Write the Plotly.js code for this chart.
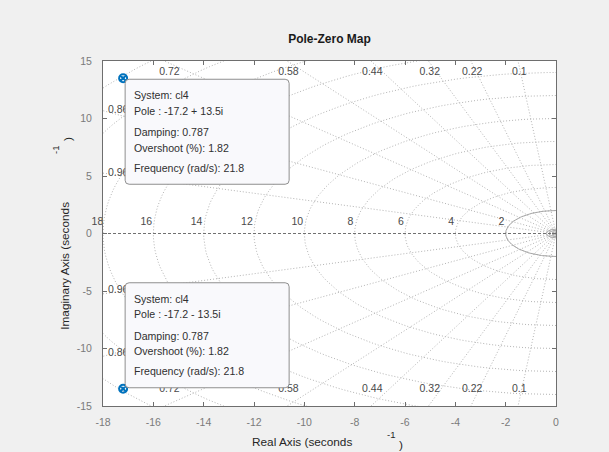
<!DOCTYPE html>
<html><head><meta charset="utf-8">
<script src="https://cdn.plot.ly/plotly-3.0.1.min.js"></script>
<style>html,body{margin:0;padding:0;background:#f0f0f0;}#c{width:609px;height:452px;}</style>
</head><body><div id="c"></div>
<script>
// ---- data ----
const zetas = [0.1, 0.22, 0.32, 0.44, 0.58, 0.72, 0.86, 0.96];
const zetaLabels = ['0.1', '0.22', '0.32', '0.44', '0.58', '0.72', '0.86', '0.96'];
const wns = [2, 4, 6, 8, 10, 12, 14, 16, 18, 20, 22];
const wnLabels = ['2', '4', '6', '8', '10', '12', '14', '16', '18', '', ''];
const smallArcs = [0.15, 0.27, 0.38, 2];
const xTicks = [-18, -16, -14, -12, -10, -8, -6, -4, -2, 0];
const yTicks = [-15, -10, -5, 0, 5, 10, 15];
const poleRe = [-17.2, -17.2];
const poleIm = [13.5, -13.5];
const systemName = ['cl4', 'cl4'];
const damping = [0.787, 0.787];
const overshoot = [1.82, 1.82];
const freq = [21.8, 21.8];

const FONT = 'Liberation Sans, Arial, sans-serif';
const X0 = -18, X1 = 0, Y0 = -15, Y1 = 15;
const PW = 453, PH = 345; // plot size px
const px2x = p => p / PW, py2y = p => p / PH;
const d2px = x => (x - X0) / (X1 - X0);
const d2py = y => (y - Y0) / (Y1 - Y0);

// ---- grid traces ----
const R = 60;
const rx = [], ry = [];
zetas.forEach(z => {
  const s = Math.sqrt(1 - z * z);
  rx.push(0, -R * z, null, 0, -R * z, null);
  ry.push(0, R * s, null, 0, -R * s, null);
});
const cx = [], cy = [];
wns.forEach(w => {
  for (let a = -90; a <= 90; a += 1.5) {
    const t = a * Math.PI / 180;
    cx.push(-w * Math.cos(t)); cy.push(w * Math.sin(t));
  }
  cx.push(null); cy.push(null);
});
const sx = [], sy = [];
smallArcs.forEach(w => {
  for (let a = -90; a <= 90; a += 1.5) {
    const t = a * Math.PI / 180;
    sx.push(-w * Math.cos(t)); sy.push(w * Math.sin(t));
  }
  sx.push(null); sy.push(null);
});

// damping labels
const dlx = [], dly = [], dlt = [], llx = [], lly = [], llt = [];
zetas.forEach((z, i) => {
  const s = Math.sqrt(1 - z * z) / z;
  const xt = -Y1 / s;
  if (xt >= X0) {
    const sh = (xt + 18) < 6 ? 0.2 : 0.05;
    dlx.push(xt + sh, xt + sh); dly.push(14.0, -13.55); dlt.push(zetaLabels[i], zetaLabels[i]);
  } else {
    const yl = -X0 * s;
    llx.push(-17.8, -17.8); lly.push(yl + 0.02, -yl + 0.3); llt.push(zetaLabels[i], zetaLabels[i]);
  }
});
const wlx = [], wly = [], wlt = [];
wns.forEach((w, i) => { if (wnLabels[i]) { wlx.push(Math.max(-w - 0.05, X0 + 0.01)); wly.push(1.0); wlt.push(wnLabels[i]); } });

const gridStyle = {color: '#b4b4b4', width: 1, dash: '1px,2px'};
const labFont = {family: FONT, size: 10.5, color: '#4a4a4a'};
const traces = [
  {x: rx, y: ry, mode: 'lines', line: gridStyle, hoverinfo: 'skip', showlegend: false},
  {x: cx, y: cy, mode: 'lines', line: gridStyle, hoverinfo: 'skip', showlegend: false},
  {x: sx, y: sy, mode: 'lines', line: {color: '#a8a8a8', width: 1}, hoverinfo: 'skip', showlegend: false},
  {x: [X0, X1], y: [0, 0], mode: 'lines', line: {color: '#707070', width: 1, dash: '3px,2px'}, hoverinfo: 'skip', showlegend: false},
  {x: dlx, y: dly, text: dlt, mode: 'text', textposition: 'middle center', cliponaxis: false,
   textfont: labFont, hoverinfo: 'skip', showlegend: false},
  {x: llx, y: lly, text: llt, mode: 'text', textposition: 'middle right', cliponaxis: false,
   textfont: labFont, hoverinfo: 'skip', showlegend: false},
  {x: wlx, y: wly, text: wlt, mode: 'text', textposition: 'middle left', cliponaxis: false,
   textfont: labFont, hoverinfo: 'skip', showlegend: false},
  {x: poleRe, y: poleIm, mode: 'markers', cliponaxis: false,
   marker: {symbol: 'circle-x-open', size: 8, color: '#0072BD', line: {width: 2, color: '#0072BD'}},
   hoverinfo: 'skip', showlegend: false}
];

// ---- data tips ----
const shapes = [], annotations = [];
const BW = 164, BH = 105, RAD = 4;
const lineOff = [16, 31.5, 53, 68.5, 88.5];
poleRe.forEach((re, i) => {
  const im = poleIm[i];
  const px = d2px(re) + px2x(2);
  const up = im > 0;
  let top, bot;
  if (up) { top = d2py(im) - py2y(1); bot = top - py2y(BH); }
  else { bot = d2py(im) + py2y(1); top = bot + py2y(BH); }
  const l = px, r = px + px2x(BW), ex = px2x(RAD), ey = py2y(RAD);
  const path = `M ${l + ex} ${top} L ${r - ex} ${top} Q ${r} ${top} ${r} ${top - ey} L ${r} ${bot + ey} Q ${r} ${bot} ${r - ex} ${bot} L ${l + ex} ${bot} Q ${l} ${bot} ${l} ${bot + ey} L ${l} ${top - ey} Q ${l} ${top} ${l + ex} ${top} Z`;
  shapes.push({type: 'path', xref: 'paper', yref: 'paper', path: path, layer: 'above',
    fillcolor: '#f9f9fc', line: {color: '#8f8f8f', width: 1}});
  const sign = im >= 0 ? '+' : '-';
  const lines = [
    'System: ' + systemName[i],
    'Pole : ' + re.toFixed(1) + ' ' + sign + ' ' + Math.abs(im).toFixed(1) + 'i',
    'Damping: ' + damping[i].toFixed(3),
    'Overshoot (%): ' + overshoot[i].toFixed(2),
    'Frequency (rad/s): ' + freq[i].toFixed(1)
  ];
  lines.forEach((t, k) => {
    annotations.push({xref: 'paper', yref: 'paper', x: l + px2x(7), y: top - py2y(lineOff[k]),
      xanchor: 'left', yanchor: 'middle', text: t, showarrow: false,
      font: {family: FONT, size: 10.6, color: '#303030'}});
  });
});

// axis labels (MATLAB-style split superscript)
const lab = {family: FONT, size: 11.8, color: '#262626'};
const sup = {family: FONT, size: 9.5, color: '#262626'};
annotations.push(
  {xref: 'paper', yref: 'paper', x: 0.44, y: -0.1035, text: 'Real Axis (seconds', showarrow: false, font: lab, xanchor: 'center', yanchor: 'middle'},
  {xref: 'paper', yref: 'paper', x: 0.635, y: -0.0812, text: '-1', showarrow: false, font: sup, xanchor: 'center', yanchor: 'middle'},
  {xref: 'paper', yref: 'paper', x: 0.657, y: -0.113, text: ')', showarrow: false, font: lab, xanchor: 'center', yanchor: 'middle'},
  {xref: 'paper', yref: 'paper', x: -0.0839, y: 0.4064, text: 'Imaginary Axis (seconds', showarrow: false, font: lab, textangle: -90, xanchor: 'center', yanchor: 'middle'},
  {xref: 'paper', yref: 'paper', x: -0.106, y: 0.742, text: '-1', showarrow: false, font: sup, textangle: -90, xanchor: 'center', yanchor: 'middle'},
  {xref: 'paper', yref: 'paper', x: -0.0773, y: 0.774, text: ')', showarrow: false, font: lab, textangle: -90, xanchor: 'center', yanchor: 'middle'}
);

const axisCommon = {showgrid: false, zeroline: false, showline: true, linecolor: '#6e6e6e', linewidth: 1,
  mirror: 'ticks', ticks: 'inside', ticklen: 4, tickcolor: '#6e6e6e', tickwidth: 1,
  tickfont: {family: FONT, size: 10.5, color: '#7a7a7a'}, fixedrange: true};

const layout = {
  width: 609, height: 452,
  margin: {l: 103, r: 53, t: 61, b: 46, pad: 0},
  paper_bgcolor: '#f0f0f0', plot_bgcolor: '#ffffff',
  title: {text: '<b>Pole-Zero Map</b>', font: {family: FONT, size: 12, color: '#1a1a1a'},
    xref: 'paper', x: 0.5, xanchor: 'center', yref: 'container', y: 1 - 39 / 452, yanchor: 'middle'},
  xaxis: Object.assign({}, axisCommon, {range: [X0, X1], tickvals: xTicks, ticktext: xTicks.map(String), ticklabelstandoff: 6}),
  yaxis: Object.assign({}, axisCommon, {range: [Y0, Y1], tickvals: yTicks, ticktext: yTicks.map(String), ticklabelstandoff: 8}),
  shapes: shapes, annotations: annotations, showlegend: false
};
Plotly.newPlot('c', traces, layout, {staticPlot: true, displayModeBar: false});
</script></body></html>
